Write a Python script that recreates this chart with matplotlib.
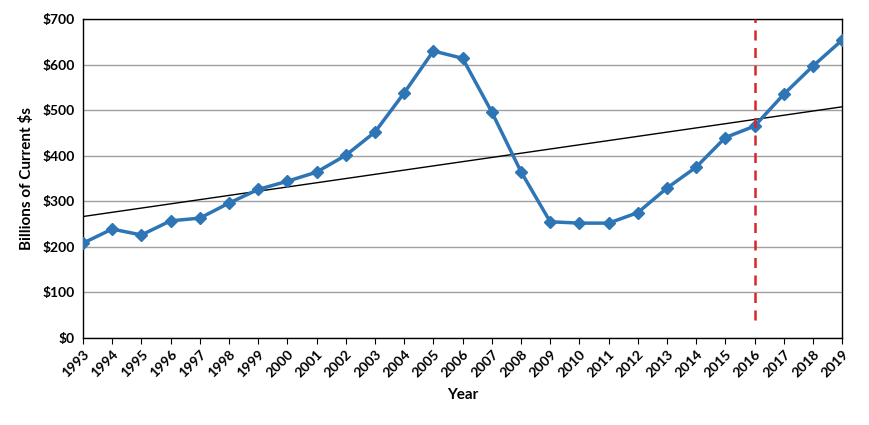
import numpy as np
import matplotlib

matplotlib.use("Agg")
import matplotlib.pyplot as plt

years = list(range(1993, 2020))
values = [208, 239, 226, 257, 263, 296, 326, 344, 364, 401, 452, 538, 630, 614,
          496, 365, 255, 252, 252, 275, 329, 375, 440, 465, 535, 597, 654]
y_ticks = [0, 100, 200, 300, 400, 500, 600, 700]
marker_year = 2016

plt.rcParams["font.family"] = "Lato"

fig = plt.figure(figsize=(8.7, 4.25), dpi=100)
ax = fig.add_axes([0.0954, 0.205, 0.8726, 0.75])

x = np.array(years)
y = np.array(values)
slope, intercept = np.polyfit(x, y, 1)
ax.plot(x, slope * x + intercept, color="black", lw=1, zorder=2)

ax.plot(x, y, color="#2e75b6", lw=2.5, marker="D", markersize=6,
        markerfacecolor="#2e75b6", markeredgecolor="#2e75b6", zorder=3)

ax.plot([marker_year, marker_year], [40, 700], color="#d62728", lw=1.8,
        ls=(0, (4, 3)), zorder=4)

ax.set_xlim(years[0], years[-1])
ax.set_ylim(0, 700)
ax.set_xticks(years)
ax.set_xticklabels([str(v) for v in years], rotation=45, ha="right",
                   rotation_mode="anchor", fontsize=10, fontweight="bold")
ax.set_yticks(y_ticks)
ax.set_yticklabels([f"${v}" for v in y_ticks], fontsize=10, fontweight="bold")
ax.tick_params(axis="y", length=0, pad=6)
ax.tick_params(axis="x", length=4, direction="out")
ax.grid(axis="y", color="#a0a0a0", lw=1)
ax.set_axisbelow(True)
for s in ax.spines.values():
    s.set_color("black")
    s.set_linewidth(1)

ax.set_xlabel("Year", fontsize=11, fontweight="bold", labelpad=6)
ax.set_ylabel("Billions of Current $s", fontsize=11, fontweight="bold", labelpad=6)

fig.savefig("out.png", dpi=100)
